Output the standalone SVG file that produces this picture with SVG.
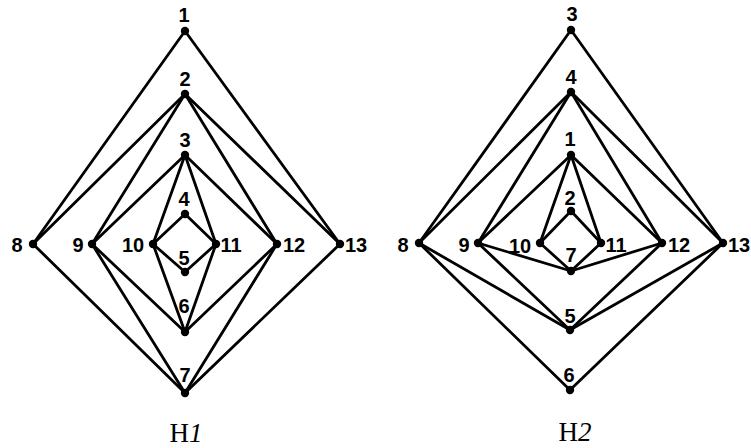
<svg xmlns="http://www.w3.org/2000/svg" width="751" height="448" viewBox="0 0 751 448">
<style>
.e{stroke:#000;stroke-width:2.8;fill:none;stroke-linecap:round}
.d{fill:#000}
.l{font-family:"Liberation Sans",Arial,sans-serif;font-weight:bold;font-size:20px;text-anchor:middle;fill:#000}
.c{font-family:"Liberation Serif","Times New Roman",serif;font-size:27px;text-anchor:middle;fill:#000}
</style>
<rect width="751" height="448" fill="#fff"/>
<g id="connectors-H1" class="e">
<line x1="185" y1="31" x2="33" y2="244"/>
<line x1="185" y1="31" x2="340" y2="244"/>
<line x1="185" y1="94" x2="33" y2="244"/>
<line x1="185" y1="94" x2="92" y2="244"/>
<line x1="185" y1="94" x2="277" y2="244"/>
<line x1="185" y1="94" x2="340" y2="244"/>
<line x1="185" y1="155" x2="92" y2="244"/>
<line x1="185" y1="155" x2="153" y2="244"/>
<line x1="185" y1="155" x2="216" y2="244"/>
<line x1="185" y1="155" x2="277" y2="244"/>
<line x1="185" y1="214" x2="153" y2="244"/>
<line x1="185" y1="214" x2="216" y2="244"/>
<line x1="185" y1="272" x2="153" y2="244"/>
<line x1="185" y1="272" x2="216" y2="244"/>
<line x1="185" y1="332" x2="92" y2="244"/>
<line x1="185" y1="332" x2="153" y2="244"/>
<line x1="185" y1="332" x2="216" y2="244"/>
<line x1="185" y1="332" x2="277" y2="244"/>
<line x1="185" y1="393" x2="33" y2="244"/>
<line x1="185" y1="393" x2="92" y2="244"/>
<line x1="185" y1="393" x2="277" y2="244"/>
<line x1="185" y1="393" x2="340" y2="244"/>
</g>
<g id="connectors-H2" class="e">
<line x1="571" y1="30" x2="419" y2="243"/>
<line x1="571" y1="30" x2="723" y2="243"/>
<line x1="571" y1="92" x2="419" y2="243"/>
<line x1="571" y1="92" x2="478" y2="243"/>
<line x1="571" y1="92" x2="662" y2="243"/>
<line x1="571" y1="92" x2="723" y2="243"/>
<line x1="571" y1="155" x2="478" y2="243"/>
<line x1="571" y1="155" x2="540" y2="243"/>
<line x1="571" y1="155" x2="601" y2="243"/>
<line x1="571" y1="155" x2="662" y2="243"/>
<line x1="571" y1="211" x2="540" y2="243"/>
<line x1="571" y1="211" x2="601" y2="243"/>
<line x1="571" y1="271" x2="478" y2="243"/>
<line x1="571" y1="271" x2="540" y2="243"/>
<line x1="571" y1="271" x2="601" y2="243"/>
<line x1="571" y1="271" x2="662" y2="243"/>
<line x1="570" y1="330" x2="419" y2="243"/>
<line x1="570" y1="330" x2="478" y2="243"/>
<line x1="570" y1="330" x2="662" y2="243"/>
<line x1="570" y1="330" x2="723" y2="243"/>
<line x1="570" y1="390" x2="419" y2="243"/>
<line x1="570" y1="390" x2="723" y2="243"/>
</g>
<g id="H1-n1"><circle class="d" cx="185" cy="31" r="4.2"/><text class="l" x="184" y="22">1</text></g>
<g id="H1-n2"><circle class="d" cx="185" cy="94" r="4.2"/><text class="l" x="185" y="86">2</text></g>
<g id="H1-n3"><circle class="d" cx="185" cy="155" r="4.2"/><text class="l" x="185" y="147">3</text></g>
<g id="H1-n4"><circle class="d" cx="185" cy="214" r="4.2"/><text class="l" x="184" y="206">4</text></g>
<g id="H1-n5"><circle class="d" cx="185" cy="272" r="4.2"/><text class="l" x="184" y="265">5</text></g>
<g id="H1-n6"><circle class="d" cx="185" cy="332" r="4.2"/><text class="l" x="184" y="313">6</text></g>
<g id="H1-n7"><circle class="d" cx="185" cy="393" r="4.2"/><text class="l" x="185" y="382">7</text></g>
<g id="H1-n8"><circle class="d" cx="33" cy="244" r="4.2"/><text class="l" x="17" y="252">8</text></g>
<g id="H1-n9"><circle class="d" cx="92" cy="244" r="4.2"/><text class="l" x="78" y="252">9</text></g>
<g id="H1-n10"><circle class="d" cx="153" cy="244" r="4.2"/><text class="l" x="133" y="252">10</text></g>
<g id="H1-n11"><circle class="d" cx="216" cy="244" r="4.2"/><text class="l" x="231" y="252">11</text></g>
<g id="H1-n12"><circle class="d" cx="277" cy="244" r="4.2"/><text class="l" x="294" y="252">12</text></g>
<g id="H1-n13"><circle class="d" cx="340" cy="244" r="4.2"/><text class="l" x="356" y="252">13</text></g>
<g id="H2-n3"><circle class="d" cx="571" cy="30" r="4.2"/><text class="l" x="572" y="21">3</text></g>
<g id="H2-n4"><circle class="d" cx="571" cy="92" r="4.2"/><text class="l" x="571" y="84">4</text></g>
<g id="H2-n1"><circle class="d" cx="571" cy="155" r="4.2"/><text class="l" x="570" y="146">1</text></g>
<g id="H2-n2"><circle class="d" cx="571" cy="211" r="4.2"/><text class="l" x="570" y="205">2</text></g>
<g id="H2-n7"><circle class="d" cx="571" cy="271" r="4.2"/><text class="l" x="571" y="262">7</text></g>
<g id="H2-n5"><circle class="d" cx="570" cy="330" r="4.2"/><text class="l" x="570" y="323">5</text></g>
<g id="H2-n6"><circle class="d" cx="570" cy="390" r="4.2"/><text class="l" x="569" y="382">6</text></g>
<g id="H2-n8"><circle class="d" cx="419" cy="243" r="4.2"/><text class="l" x="403" y="252">8</text></g>
<g id="H2-n9"><circle class="d" cx="478" cy="243" r="4.2"/><text class="l" x="464" y="252">9</text></g>
<g id="H2-n10"><circle class="d" cx="540" cy="243" r="4.2"/><text class="l" x="520" y="253">10</text></g>
<g id="H2-n11"><circle class="d" cx="601" cy="243" r="4.2"/><text class="l" x="616" y="252">11</text></g>
<g id="H2-n12"><circle class="d" cx="662" cy="243" r="4.2"/><text class="l" x="679" y="252">12</text></g>
<g id="H2-n13"><circle class="d" cx="723" cy="243" r="4.2"/><text class="l" x="739" y="252">13</text></g>
<text class="c" x="186" y="442">H<tspan font-style="italic">1</tspan></text>
<text class="c" x="575" y="441">H<tspan font-style="italic">2</tspan></text>
</svg>
